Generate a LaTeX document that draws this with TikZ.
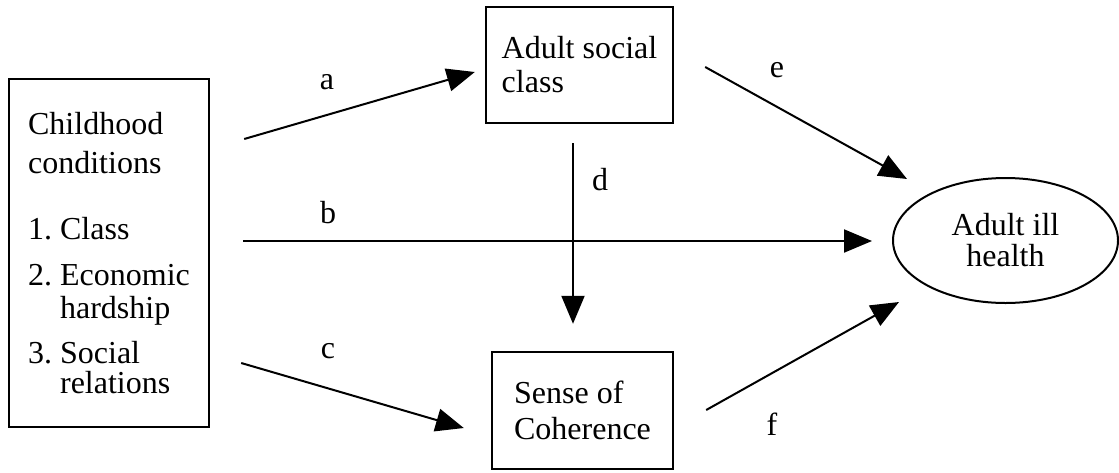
\documentclass[tikz,border=0pt]{standalone}
\usepackage{fontspec}
\setmainfont{Liberation Serif}
\usetikzlibrary{arrows.meta}
\usetikzlibrary{shapes}
\usetikzlibrary{positioning}

\begin{document}
\begin{tikzpicture}[
    x=0.5pt, y=-0.5pt,
    box/.style={draw, line width=1.2pt, align=left, inner sep=0pt},
    pile/.style={line width=1pt, -{Triangle[length=14pt,width=11.5pt]}},
    letter/.style={anchor=base},
    every node/.style={color=black, font=\fontsize{16}{17}\selectfont}
    ]

\useasboundingbox (0,0) rectangle (1119,472);

\coordinate (C) at (109,253);
\coordinate (A) at (579.5,65);
\coordinate (S) at (582.5,410.5);
\coordinate (H) at (1005.5,240.5);

% boxes
\node[box, minimum width=100pt, minimum height=174pt,
    font=\fontsize{16}{14}\selectfont] (child) at (C)
	{Childhood\\[5.5pt]conditions\\[19pt]1.\ Class\\[9pt]2.\ Economic\\[2.5pt]
	\hphantom{2.\ }hardship\\[7pt]3.\ Social\\[1pt]\hphantom{3.\ }relations};
\node[box, minimum width=93.5pt, minimum height=58pt] (adult) at (A)
	{Adult social\\class};
\node[box, minimum width=90.5pt, minimum height=58.5pt,
    font=\fontsize{16}{18}\selectfont] (sense) at (S)
	{Sense of\\Coherence};
\node[draw, ellipse, line width=1pt, minimum width=112.5pt,
    minimum height=62.5pt, inner sep=0pt, align=center,
    font=\fontsize{16}{15.5}\selectfont] (ill) at (H)
	{Adult ill\\health};

% paths
\draw[pile] ([shift={(34,-114)}]child.east) -- ([shift={(-10,7)}]adult.west);
\draw[pile] ([shift={(33,-12)}]child.east) -- ([shift={(-20,0.5)}]ill.west);
\draw[pile] ([shift={(31,110)}]child.east) -- ([shift={(-27,17.5)}]sense.west);
\draw[pile] ([shift={(-6.5,19)}]adult.south) -- ([shift={(-9.5,-27)}]sense.north);
\draw[pile] ([shift={(31,2)}]adult.east) -- ([shift={(15,-61.5)}]ill.west);
\draw[pile] ([shift={(32,-0.5)}]sense.east) -- ([shift={(7,61.5)}]ill.west);

\node[letter] (la) at (327,89) {a};
\node[letter] (lb) at (328,223) {b};
\node[letter] (lc) at (328,358) {c};
\node[letter] (ld) at (600,190) {d};
\node[letter] (le) at (777,77) {e};
\node[letter] (lf) at (772,435) {f};

\end{tikzpicture}
\end{document}
